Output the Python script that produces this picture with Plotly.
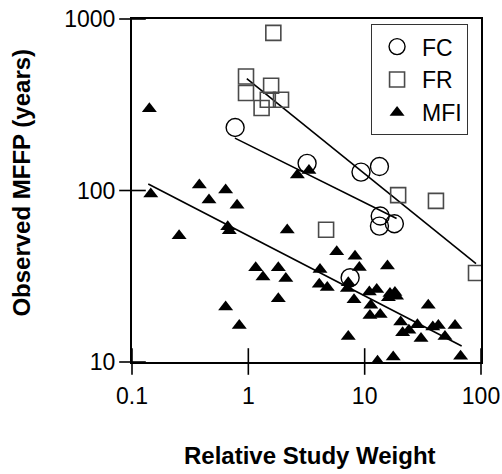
import plotly.graph_objects as go

# ---- data ----
fc_x = [0.77, 3.2, 9.3, 13.4, 13.6, 13.4, 18.0, 7.5]
fc_y = [233, 144, 128, 138, 71, 62, 64, 31]

fr_x = [0.955, 0.955, 1.57, 1.30, 1.47, 1.91, 1.64, 19.4, 41.0, 4.66, 90.6]
fr_y = [462, 370, 408, 303, 338, 338, 830, 94, 87, 59, 33]

mfi_x = [0.141, 0.145, 0.254, 0.379, 0.459, 0.638, 0.80, 0.665, 0.686, 0.638,
         0.836, 1.157, 1.336, 1.81, 2.10, 1.81, 2.16, 2.64, 3.32, 4.13,
         4.07, 4.77, 5.75, 8.26, 9.0, 15.7, 7.23, 7.1, 8.1, 10.97,
         12.7, 11.3, 11.1, 13.6, 16.0, 16.5, 18.2, 18.8, 35.2, 20.4,
         24.0, 21.2, 28.4, 30.5, 38.5, 43.0, 49.0, 59.8, 7.23, 12.9,
         17.6, 66.8]
mfi_y = [300, 95.5, 54.5, 107.7, 88, 100.7, 82, 61.4, 58.2, 20.9,
         16.3, 35.4, 31.3, 35.4, 30.7, 23.4, 58.8, 123, 131, 34.6,
         28.4, 27.2, 44, 41.4, 35.6, 36.3, 29, 26.8, 23.1, 25.6,
         26.5, 21.4, 18.7, 18.9, 23.7, 25.1, 25.4, 24.2, 21.4, 17.1,
         15.3, 14.8, 16.5, 13.7, 16.0, 16.3, 14.1, 16.3, 14.1, 10.1,
         10.7, 10.8]

fc_fit_x = [0.767, 18.8]
fc_fit_y = [202, 68.7]
fr_fit_x = [0.97, 90.6]
fr_fit_y = [449, 37.5]
mfi_fit_x = [0.138, 68.2]
mfi_fit_y = [109, 12.4]

x_major = [0.1, 1, 10, 100]
y_major = [10, 100, 1000]
X_RANGE = [-1, 2]
Y_RANGE = [1, 3]

FONT = "Liberation Sans, Arial, sans-serif"
W, H = 502, 474
ML, MR, MT, MB = 132, 21, 19, 112
PW, PH = W - ML - MR, H - MT - MB
XDEC = (X_RANGE[1] - X_RANGE[0]) / PW   # decades per pixel
YDEC = (Y_RANGE[1] - Y_RANGE[0]) / PH

fig = go.Figure()

for fx, fy in [(fc_fit_x, fc_fit_y), (fr_fit_x, fr_fit_y), (mfi_fit_x, mfi_fit_y)]:
    fig.add_trace(go.Scatter(x=fx, y=fy, mode="lines", showlegend=False,
                             line=dict(color="black", width=1.6), hoverinfo="skip"))

fig.add_trace(go.Scatter(x=mfi_x, y=mfi_y, mode="markers", name="MFI", legendrank=3,
                         legendgroup="c",
                         marker=dict(symbol="triangle-up", size=13, color="black",
                                     line=dict(width=0))))
fig.add_trace(go.Scatter(x=fr_x, y=fr_y, mode="markers", name="FR", legendrank=2,
                         legendgroup="b",
                         marker=dict(symbol="square-open", size=15, color="#4a4a4a",
                                     line=dict(width=1.6))))
fig.add_trace(go.Scatter(x=fc_x, y=fc_y, mode="markers", name="FC", legendrank=1,
                         legendgroup="a",
                         marker=dict(symbol="circle-open", size=18, color="black",
                                     line=dict(width=1.4))))

# tick marks drawn as line markers sitting on the axes
x_minor = [m * d for d in x_major[:-1] for m in range(2, 10)]
y_minor = [m * d for d in y_major[:-1] for m in range(2, 10)]
y_base = 10 ** Y_RANGE[0]
x_base = 10 ** X_RANGE[0]
tick_specs = [
    (x_major, [y_base * 10 ** (0.5 * YDEC)] * len(x_major), "line-ns", 19),
    (x_minor, [y_base * 10 ** (-3.5 * YDEC)] * len(x_minor), "line-ns", 7),
    ([x_base * 10 ** (0.5 * XDEC)] * len(y_major), y_major, "line-ew", 19),
    ([x_base * 10 ** (-4 * XDEC)] * len(y_minor), y_minor, "line-ew", 8),
]
for tx, ty, sym, sz in tick_specs:
    fig.add_trace(go.Scatter(x=tx, y=ty, mode="markers", showlegend=False,
                             hoverinfo="skip", cliponaxis=False,
                             marker=dict(symbol=sym, size=sz, color="black",
                                         line=dict(color="black", width=1.6))))

fig.update_layout(
    template="none",
    width=W, height=H,
    margin=dict(l=ML, r=MR, t=MT, b=MB),
    plot_bgcolor="white", paper_bgcolor="white",
    font=dict(family=FONT, size=23, color="black"),
    legend=dict(x=0.685, y=0.985, xanchor="left", yanchor="top",
                bgcolor="white", bordercolor="#333", borderwidth=1,
                font=dict(size=23), tracegroupgap=8, traceorder="normal",
                itemwidth=40),
    xaxis=dict(type="log", range=X_RANGE, dtick=1, exponentformat="none",
               showgrid=False, zeroline=False, automargin=False,
               ticks="outside", ticklen=12, tickwidth=1, tickcolor="rgba(0,0,0,0)",
               showline=True, linecolor="black", linewidth=2, mirror=True),
    yaxis=dict(type="log", range=Y_RANGE, dtick=1, exponentformat="none",
               showgrid=False, zeroline=False, automargin=False,
               ticks="outside", ticklen=10, tickwidth=1, tickcolor="rgba(0,0,0,0)",
               showline=True, linecolor="black", linewidth=2, mirror=True),
    annotations=[
        dict(text="<b>Relative Study Weight</b>", xref="paper", yref="paper",
             x=(310 - ML) / PW, y=-(455.5 - (H - MB)) / PH, xanchor="center",
             yanchor="middle", showarrow=False, font=dict(size=24)),
        dict(text="<b>Observed MFFP (years)</b>", xref="paper", yref="paper",
             x=(20.6 - ML) / PW, y=((H - MB) - 183) / PH, xanchor="center",
             yanchor="middle", textangle=-90, showarrow=False, font=dict(size=24)),
    ],
)

fig.write_html("out.html", post_script="document.body.style.margin='0px';",
               config={"displayModeBar": False})
